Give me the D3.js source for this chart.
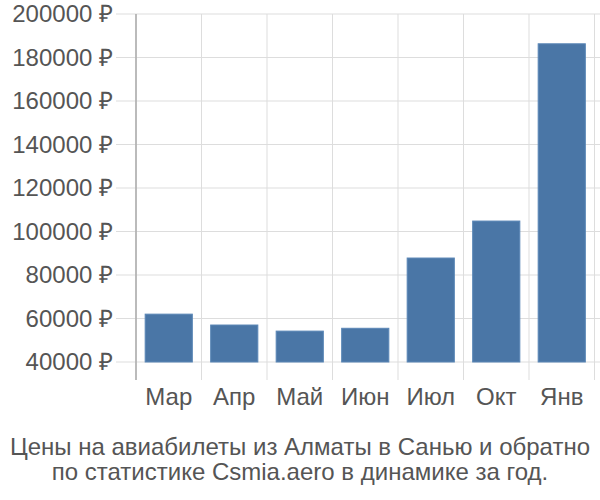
<!DOCTYPE html>
<html lang="ru">
<head>
<meta charset="utf-8">
<style>
  body { margin: 0; background: #fff; }
  svg { display: block; font-family: "Liberation Sans", Arial, sans-serif; }
  .lbl { fill: #555; font-size: 24px; }
</style>
<script src="https://d3js.org/d3.v7.min.js"></script>
</head>
<body>
<div id="chart"></div>
<script>
// data
var months = ["Мар", "Апр", "Май", "Июн", "Июл", "Окт", "Янв"];
var prices = [62000, 57000, 54200, 55500, 87800, 104800, 186300];
var yTicks = [40000, 60000, 80000, 100000, 120000, 140000, 160000, 180000, 200000];
var title = ["Цены на авиабилеты из Алматы в Санью и обратно",
             "по статистике Csmia.aero в динамике за год."];

var width = 600, height = 500;
var plotLeft = 136, plotRight = 594.5, plotTop = 14, base = 362, axisBottom = 380;

var svg = d3.select("#chart").append("svg")
    .attr("width", width).attr("height", height);

var x = d3.scaleBand().domain(months).range([plotLeft, plotRight]).paddingInner(0.28).paddingOuter(0.14);
var y = d3.scaleLinear().domain([40000, 200000]).range([base, plotTop]);

// horizontal grid + tick marks
svg.append("g").selectAll("line").data(yTicks).join("line")
    .attr("x1", 116).attr("x2", width)
    .attr("y1", function(d) { return y(d); }).attr("y2", function(d) { return y(d); })
    .attr("stroke", "#ddd").attr("stroke-width", 1);

// vertical grid at band edges
var edges = months.map(function(m) { return x(m) - x.step() * x.paddingInner() / 2; });
edges.push(plotRight);
svg.append("g").selectAll("line").data(edges).join("line")
    .attr("x1", function(d) { return d; }).attr("x2", function(d) { return d; })
    .attr("y1", plotTop).attr("y2", axisBottom)
    .attr("stroke", "#ddd").attr("stroke-width", 1);

// y axis line
svg.append("line").attr("x1", plotLeft).attr("x2", plotLeft)
    .attr("y1", plotTop).attr("y2", axisBottom)
    .attr("stroke", "#aaa").attr("stroke-width", 1.5);

// y labels
svg.append("g").selectAll("text").data(yTicks).join("text")
    .attr("class", "lbl")
    .attr("x", 113).attr("y", function(d) { return y(d); })
    .attr("dy", "0.35em").attr("text-anchor", "end")
    .text(function(d) { return d + " ₽"; });

// bars
svg.append("g").selectAll("rect").data(prices).join("rect")
    .attr("x", function(d, i) { return x(months[i]); })
    .attr("width", x.bandwidth())
    .attr("y", function(d) { return y(d); })
    .attr("height", function(d) { return base - y(d); })
    .attr("fill", "#4a76a6").attr("stroke", "#5a86b6").attr("stroke-width", 1);

// x labels
svg.append("g").selectAll("text").data(months).join("text")
    .attr("class", "lbl")
    .attr("x", function(d) { return x(d) + x.bandwidth() / 2; })
    .attr("y", 397).attr("dy", "0.35em").attr("text-anchor", "middle")
    .text(function(d) { return d; });

// title
svg.append("g").selectAll("text").data(title).join("text")
    .attr("class", "lbl")
    .attr("x", width / 2).attr("y", function(d, i) { return 447 + i * 25; })
    .attr("dy", "0.35em").attr("text-anchor", "middle")
    .text(function(d) { return d; });
</script>
</body>
</html>
